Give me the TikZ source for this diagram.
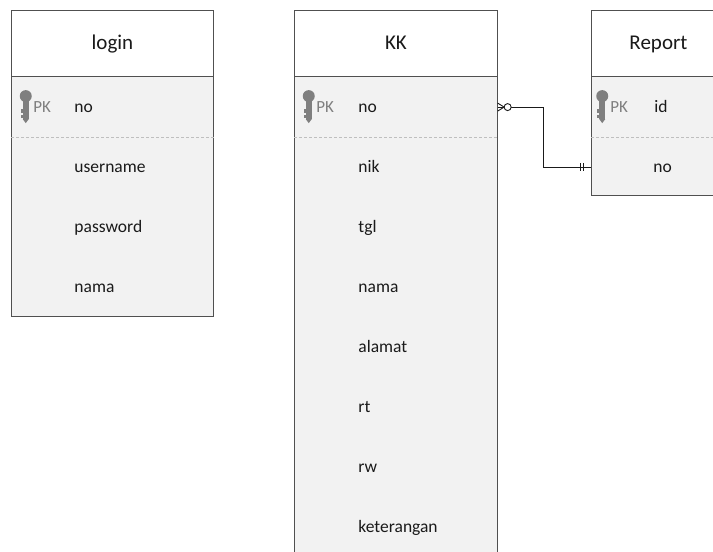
\documentclass[tikz,border=0pt]{standalone}
\usepackage{fontspec}
\setmainfont{Carlito}
\usepackage{tikz}
\usetikzlibrary{positioning, calc}
\definecolor{framegray}{HTML}{505050}
\definecolor{rowgray}{HTML}{F2F2F2}
\definecolor{sepgray}{HTML}{BFBFBF}
\definecolor{keygray}{HTML}{7F7F7F}
\definecolor{txtblack}{HTML}{1A1A1A}
\tikzset{
  tablebox/.style={draw=framegray, fill=rowgray, line width=0.9pt, anchor=north west, inner sep=0pt},
  headbox/.style={draw=framegray, fill=white, line width=0.9pt, anchor=north, inner sep=0pt,
    minimum height=66pt, text height=16pt, text depth=3pt, font=\fontsize{21}{24}\selectfont, text=txtblack},
  pkrow/.style={inner sep=0pt, minimum height=60pt, anchor=north},
  sepline/.style={draw=sepgray, dash pattern=on 3pt off 2pt, line width=0.6pt},
  field/.style={anchor=base west, inner sep=0pt, font=\fontsize{17.5}{20}\selectfont, text=txtblack},
  pklabel/.style={anchor=base west, inner sep=0pt, font=\fontsize{17}{20}\selectfont, text=keygray},
  relline/.style={draw=txtblack, line width=0.9pt},
  pkkey/.pic={
    \fill[keygray] (0,-11) circle (6pt);            % key head
    \fill[keygray] (-3,-8) rectangle (3,12);        % key shaft
    \fill[keygray] (-3,12) -- (3,12) -- (0,16) -- cycle;
    \fill[keygray] (-5,2) rectangle (-3,6);         % teeth
    \fill[keygray] (-5,8) rectangle (-3,11);
  }
}
\begin{document}
\begin{tikzpicture}[x=1pt, y=-1pt]
  \useasboundingbox (0,0) rectangle (713,552);

  % table login
  \node[tablebox, minimum width=202pt, minimum height=306pt] (login) at (11,10) {};
  \node[headbox, minimum width=202pt] (loginhead) at (login.north) {login};
  \node[pkrow, minimum width=202pt, below=0pt of loginhead] (loginpk) {};
  \draw[sepline] (loginpk.south west) -- (loginpk.south east);
  \pic at ([xshift=14.5pt]loginpk.west) {pkkey};
  \node[pklabel] (loginpklbl) at ([xshift=22pt, yshift=-5pt]loginpk.west) {PK};
  \node[field] (loginno) at ([xshift=63pt, yshift=-5pt]loginpk.west) {no};
  \foreach \f [count=\i] in {username,password,nama}
    \node[field] (loginf\i) at ([xshift=63pt, yshift={-5pt-60pt*\i}]loginpk.west) {\f};

  % table KK
  \node[tablebox, minimum width=203pt, minimum height=546pt] (kk) at (294,10) {};
  \node[headbox, minimum width=203pt] (kkhead) at (kk.north) {KK};
  \node[pkrow, minimum width=203pt, below=0pt of kkhead] (kkpk) {};
  \draw[sepline] (kkpk.south west) -- (kkpk.south east);
  \pic at ([xshift=14.5pt]kkpk.west) {pkkey};
  \node[pklabel] (kkpklbl) at ([xshift=22pt, yshift=-5pt]kkpk.west) {PK};
  \node[field] (kkno) at ([xshift=64pt, yshift=-5pt]kkpk.west) {no};
  \foreach \f [count=\i] in {nik,tgl,nama,alamat,rt,rw,keterangan}
    \node[field] (kkf\i) at ([xshift=64pt, yshift={-5pt-60pt*\i}]kkpk.west) {\f};

  % table Report
  \node[tablebox, minimum width=134pt, minimum height=185pt] (rp) at (591,10) {};
  \node[headbox, minimum width=134pt] (rphead) at (rp.north) {Report};
  \node[pkrow, minimum width=134pt, below=0pt of rphead] (rppk) {};
  \node[pkrow, minimum width=134pt, minimum height=59pt, below=0pt of rppk] (rpno) {};
  \draw[sepline] (rppk.south west) -- (rppk.south east);
  \pic at ([xshift=11pt]rppk.west) {pkkey};
  \node[pklabel] (rppklbl) at ([xshift=19pt, yshift=-5pt]rppk.west) {PK};
  \node[field] (rpid) at ([xshift=63pt, yshift=-5pt]rppk.west) {id};
  \node[field] (rpnotxt) at ([xshift=62pt, yshift=-5pt]rpno.west) {no};

  % relation KK -- Report
  \draw[relline] (kkpk.east) -- ++(46,0) |- (rpno.west);
  \draw[relline] ($(kkpk.east)+(0,-4)$) -- ($(kkpk.east)+(6.5,0)$) -- ($(kkpk.east)+(0,4)$); % many
  \draw[relline, fill=white] ($(kkpk.east)+(10,0)$) circle (3.5pt);                        % zero
  \draw[relline] ($(rpno.west)+(-11,-4)$) -- ($(rpno.west)+(-11,4)$);                      % one
  \draw[relline] ($(rpno.west)+(-8,-4)$) -- ($(rpno.west)+(-8,4)$);
\end{tikzpicture}
\end{document}
